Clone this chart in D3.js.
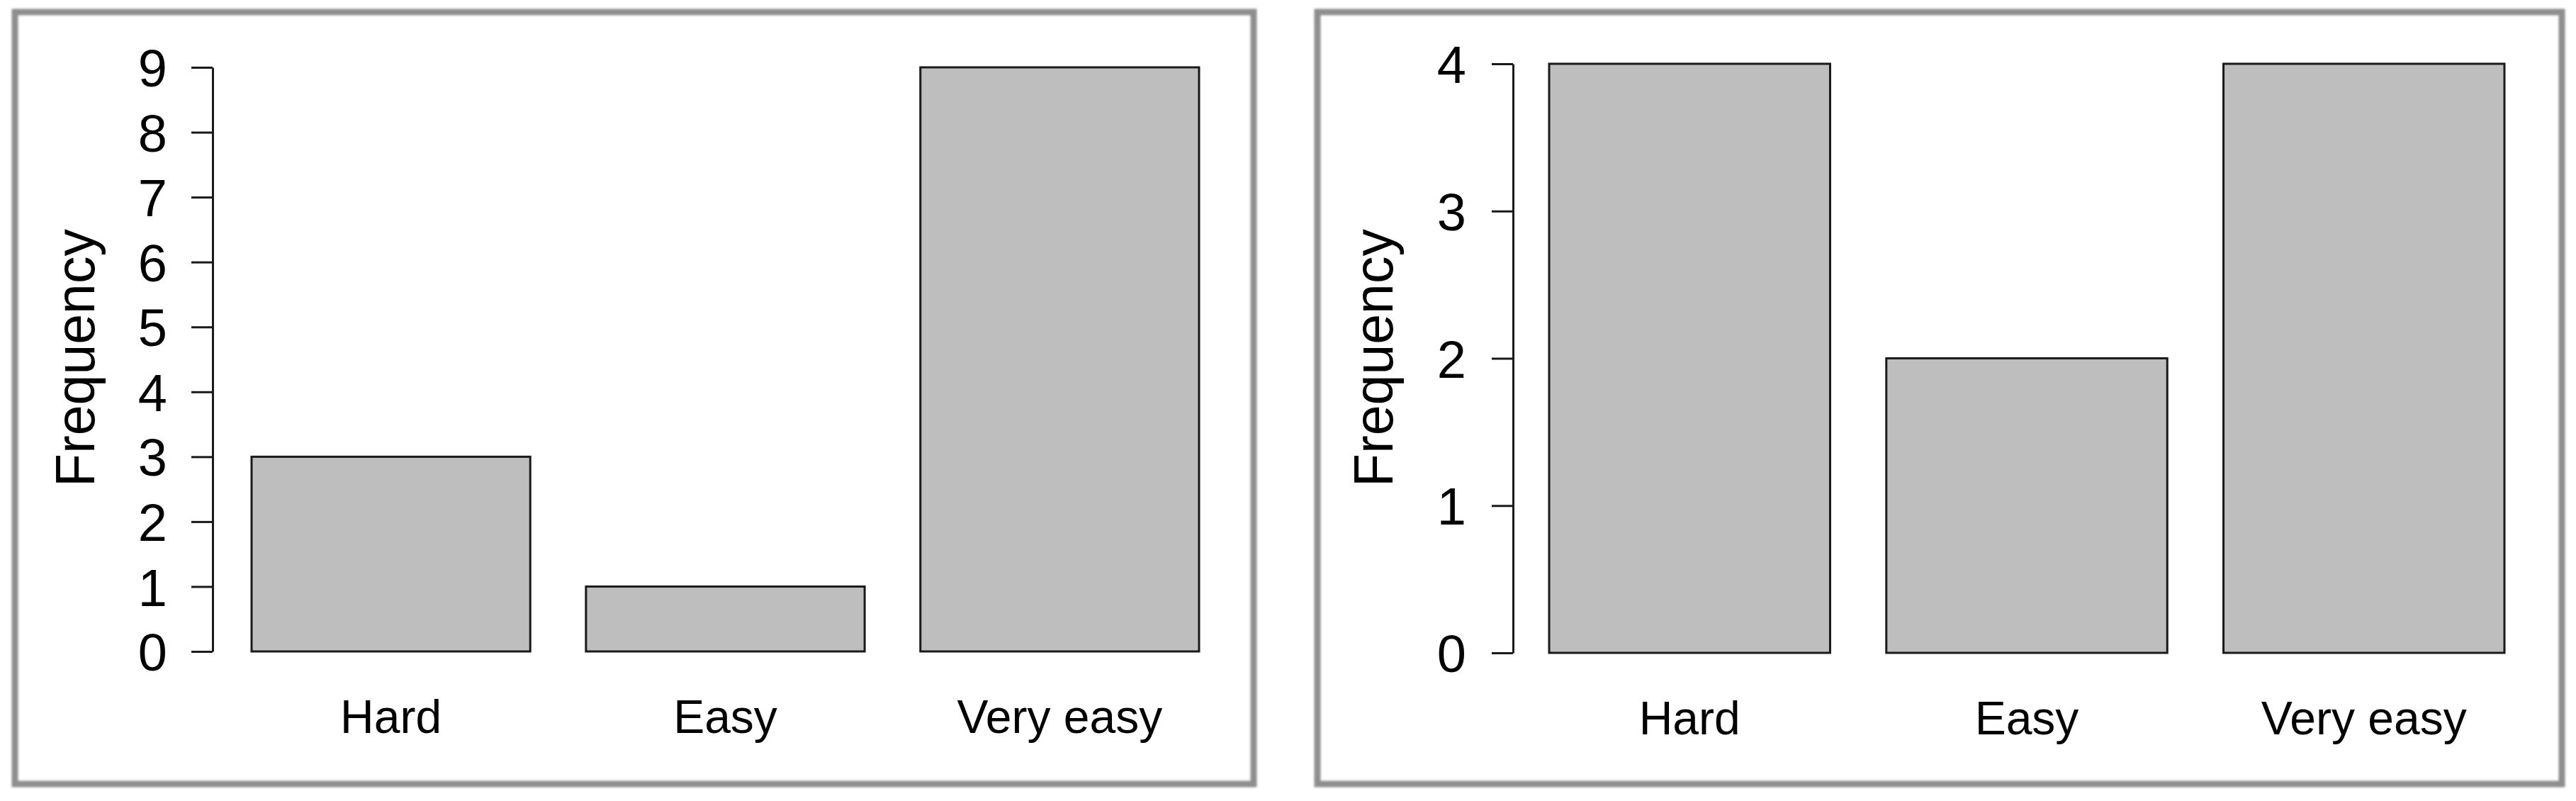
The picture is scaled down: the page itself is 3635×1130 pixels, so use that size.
<!DOCTYPE html>
<html>
<head>
<meta charset="utf-8">
<script src="https://cdn.jsdelivr.net/npm/d3@7"></script>
<style>
  body { margin: 0; background: #fff; }
  svg { display: block; }
  text { font-family: "Liberation Sans", Arial, sans-serif; fill: #000; }
</style>
</head>
<body>
<svg id="chart" width="3635" height="1130"></svg>
<script>
// values
var categories = ["Hard", "Easy", "Very easy"];
var leftValues = [3, 1, 9];
var rightValues = [4, 2, 4];
var leftTicks = [0, 1, 2, 3, 4, 5, 6, 7, 8, 9];
var rightTicks = [0, 1, 2, 3, 4];
var yTitle = "Frequency";

var svg = d3.select("#chart");

var defs = svg.append("defs");
defs.append("filter").attr("id", "soft")
    .attr("x", "-1%").attr("y", "-1%").attr("width", "102%").attr("height", "102%")
  .append("feGaussianBlur").attr("stdDeviation", 1.6);

var draw_panel = function(p) {
    // grey frame around each plot
    svg.append("rect")
        .attr("x", p.frame[0]).attr("y", p.frame[1])
        .attr("width", p.frame[2]).attr("height", p.frame[3])
        .attr("fill", "none")
        .attr("stroke", "#8e8e8e")
        .attr("stroke-width", 9)
        .attr("filter", "url(#soft)");

    var x = d3.scaleBand()
        .domain(categories)
        .range(p.xRange)
        .paddingInner(0.2 / 1.2)
        .paddingOuter(0);

    var y = d3.scaleLinear()
        .domain([0, d3.max(p.ticks)])
        .range(p.yRange);

    var g = svg.append("g");

    g.selectAll("rect.bar")
        .data(p.values)
        .enter().append("rect")
        .attr("class", "bar")
        .attr("x", function(d, i) { return x(categories[i]); })
        .attr("width", x.bandwidth())
        .attr("y", function(d) { return y(d); })
        .attr("height", function(d) { return y(0) - y(d); })
        .attr("fill", "#bebebe")
        .attr("stroke", "#1a1a1a")
        .attr("stroke-width", 3);

    var yAxis = d3.axisLeft(y)
        .tickValues(p.ticks)
        .tickFormat(d3.format("d"))
        .tickSize(30)
        .tickSizeOuter(0)
        .tickPadding(p.pad);

    var ax = g.append("g")
        .attr("transform", "translate(" + p.axisX + ",0)")
        .call(yAxis);
    ax.select(".domain").attr("stroke", "#1a1a1a").attr("stroke-width", 3);
    ax.selectAll(".tick line").attr("stroke", "#1a1a1a").attr("stroke-width", 3);
    ax.selectAll(".tick text")
        .attr("font-size", 74)
        .attr("font-family", "Liberation Sans, Arial, sans-serif")
        .attr("dy", "0.36em")
        .attr("fill", "#000");

    g.selectAll("text.cat")
        .data(categories)
        .enter().append("text")
        .attr("class", "cat")
        .attr("x", function(d) { return x(d) + x.bandwidth() / 2; })
        .attr("y", p.labelY)
        .attr("text-anchor", "middle")
        .attr("font-size", 66)
        .text(function(d) { return d; });

    g.append("text")
        .attr("transform", "translate(" + p.titleX + "," + p.titleY + ") rotate(-90)")
        .attr("text-anchor", "middle")
        .attr("font-size", 77)
        .text(yTitle);
};

draw_panel({
    frame: [21, 17, 1748, 1089],
    values: leftValues,
    ticks: leftTicks,
    xRange: [355, 1692],
    yRange: [919, 95],
    axisX: 300,
    pad: 34,
    labelY: 1034,
    titleX: 133,
    titleY: 505
});

draw_panel({
    frame: [1859, 17, 1756, 1089],
    values: rightValues,
    ticks: rightTicks,
    xRange: [2186, 3534],
    yRange: [921, 90],
    axisX: 2135,
    pad: 36,
    labelY: 1036,
    titleX: 1965,
    titleY: 505
});
</script>
</body>
</html>
